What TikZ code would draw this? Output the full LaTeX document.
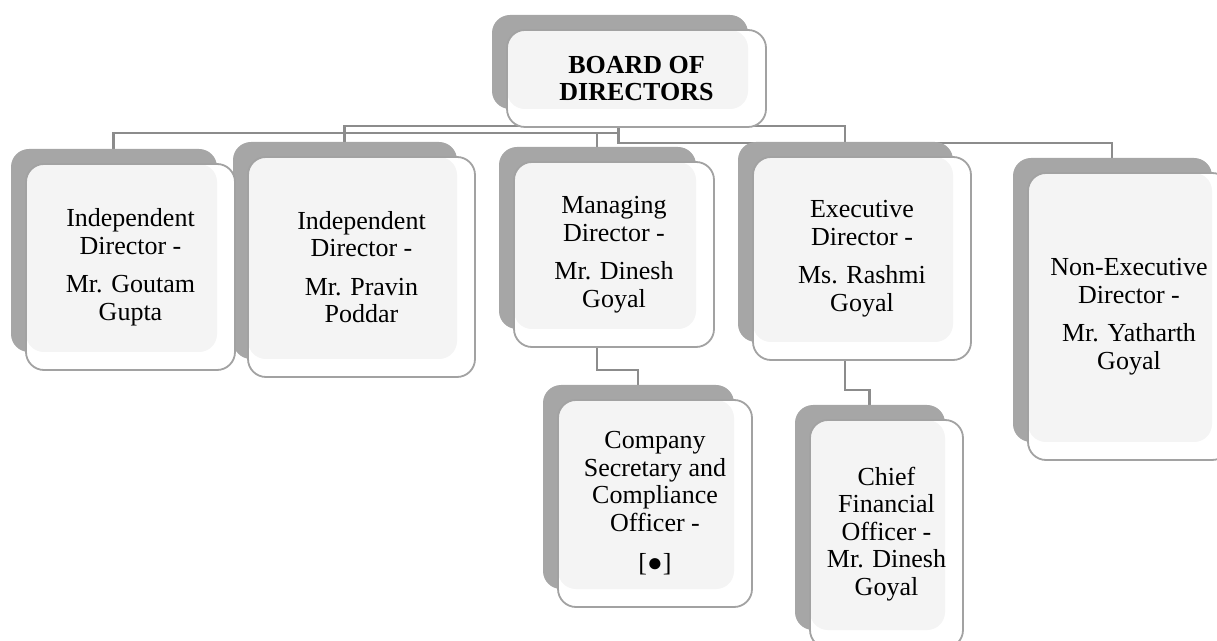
\documentclass[tikz,border=0pt]{standalone}
\usepackage{fontspec}
\setmainfont{Liberation Serif}
\usetikzlibrary{backgrounds}

\definecolor{shadegray}{HTML}{A6A6A6}
\definecolor{paper}{HTML}{F4F4F4}
\definecolor{rimgray}{HTML}{A2A2A2}
\definecolor{wiregray}{HTML}{8C8C8C}

\tikzset{
  card/.style={draw=rimgray, line width=1.8pt, fill=white, rounded corners=18pt,
    align=center, inner sep=0pt, outer sep=0pt,
    font=\fontsize{26}{27.5}\selectfont,
    path picture={\fill[paper, rounded corners=18pt]
      (path picture bounding box.north west) rectangle
      ([shift={(-18pt,18pt)}]path picture bounding box.south east);}},
  backcard/.style={fill=shadegray, rounded corners=18pt},
  wire/.style={draw=wiregray, line width=2.2pt}
}

\begin{document}
\begin{tikzpicture}[x=1pt, y=1pt]
  \useasboundingbox (0,0) rectangle (1217,640);

  % Board
  \node[card, font=\fontsize{26}{27.5}\selectfont\bfseries,
        minimum width=259pt, minimum height=97pt] (board) at (636.5,561.5)
    {BOARD OF\\DIRECTORS};

  % Directors
  \node[card, minimum width=209pt, minimum height=206pt] (gupta) at (130.5,373)
    {Independent\\Director -\\[11pt]Mr. Goutam\\Gupta};
  \node[card, minimum width=227pt, minimum height=220pt] (poddar) at (361.5,373)
    {Independent\\Director -\\[11pt]Mr. Pravin\\Poddar};
  \node[card, minimum width=200pt, minimum height=185pt] (mdgoyal) at (614,385.5)
    {Managing\\Director -\\[11pt]Mr. Dinesh\\Goyal};
  \node[card, minimum width=218pt, minimum height=203pt] (rgoyal) at (862,381.5)
    {Executive\\Director -\\[11pt]Ms. Rashmi\\Goyal};
  \node[card, minimum width=202pt, minimum height=287pt] (ygoyal) at (1129,323.5)
    {Non-Executive\\Director -\\[11pt]Mr. Yatharth\\Goyal};

  % Officers
  \node[card, minimum width=194pt, minimum height=207pt] (cosec) at (655,136.5)
    {Company\\Secretary and\\Compliance\\Officer -\\[13pt]{[}●{]}};
  \node[card, minimum width=153pt, minimum height=228pt] (cfo) at (886.5,106)
    {Chief\\Financial\\Officer -\\Mr. Dinesh\\Goyal};

  \begin{scope}[on background layer]
    % Links
    \draw[wire] ([xshift=-18pt]board.south) -- ++(0,-6) -| ([xshift=-17pt]gupta.north);
    \draw[wire] ([xshift=-17pt]mdgoyal.north) |- ([shift={(-18pt,-6pt)}]board.south);
    \draw[wire] ([xshift=-18pt]board.south) -- ++(0,-16) -| ([xshift=-17pt]ygoyal.north);
    \draw[wire] ([xshift=-17pt]poddar.north) |- ([yshift=1pt]board.south)
      -| ([xshift=-17pt]rgoyal.north);
    \draw[wire] ([xshift=-17pt]mdgoyal.south) -- ++(0,-23) -| ([xshift=-17pt]cosec.north);
    \draw[wire] ([xshift=-17pt]rgoyal.south) -- ++(0,-30) -| ([xshift=-17pt]cfo.north);

    % Shadow cards
    \fill[backcard] ([shift={(-15pt,15pt)}]board.north west) rectangle ([shift={(-18pt,18pt)}]board.south east);
    \fill[backcard] ([shift={(-15pt,15pt)}]gupta.north west) rectangle ([shift={(-18pt,18pt)}]gupta.south east);
    \fill[backcard] ([shift={(-15pt,15pt)}]poddar.north west) rectangle ([shift={(-18pt,18pt)}]poddar.south east);
    \fill[backcard] ([shift={(-15pt,15pt)}]mdgoyal.north west) rectangle ([shift={(-18pt,18pt)}]mdgoyal.south east);
    \fill[backcard] ([shift={(-15pt,15pt)}]rgoyal.north west) rectangle ([shift={(-18pt,18pt)}]rgoyal.south east);
    \fill[backcard] ([shift={(-15pt,15pt)}]ygoyal.north west) rectangle ([shift={(-18pt,18pt)}]ygoyal.south east);
    \fill[backcard] ([shift={(-15pt,15pt)}]cosec.north west) rectangle ([shift={(-18pt,18pt)}]cosec.south east);
    \fill[backcard] ([shift={(-15pt,15pt)}]cfo.north west) rectangle ([shift={(-18pt,18pt)}]cfo.south east);
  \end{scope}
\end{tikzpicture}
\end{document}
